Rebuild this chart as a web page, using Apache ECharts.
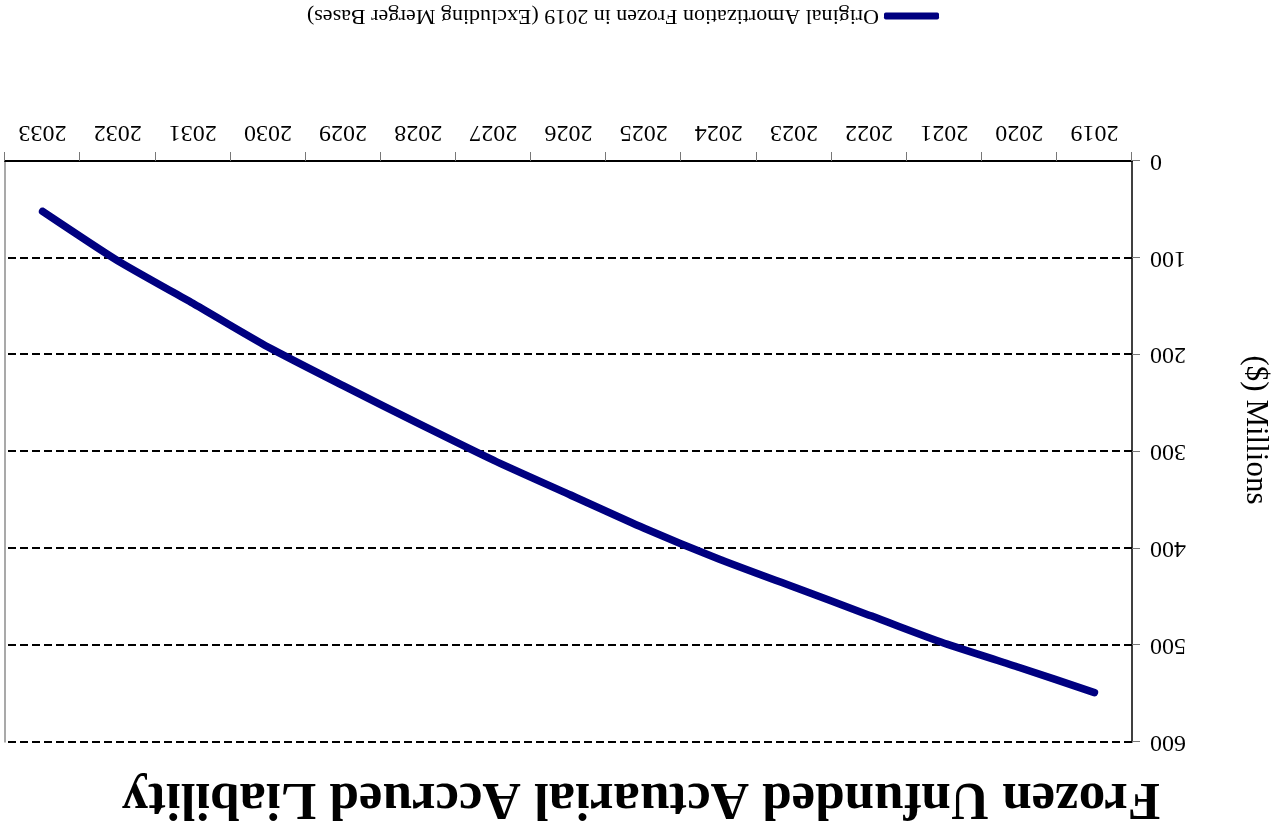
<!DOCTYPE html>
<html>
<head>
<meta charset="utf-8">
<script src="https://cdn.jsdelivr.net/npm/echarts@6/dist/echarts.min.js"></script>
<style>
  html, body { margin: 0; padding: 0; background: #fff; overflow: hidden; }
  /* the whole figure is presented turned half a revolution */
  #chart { width: 1282px; height: 832px; transform: rotate(180deg); transform-origin: 50% 50%; }
</style>
</head>
<body>
<div id="chart"></div>
<script>
// Plan years on the category axis
const years = ['2019', '2020', '2021', '2022', '2023', '2024', '2025', '2026',
               '2027', '2028', '2029', '2030', '2031', '2032', '2033'];
// Frozen unfunded actuarial accrued liability, $ millions
const frozenUAAL = [549, 523, 498, 469, 440, 411, 379, 344, 309, 271, 232, 192, 147, 103, 52];
// Value axis range and step
const valueMin = 0;
const valueMax = 600;
const valueStep = 100;

const titleText = 'Frozen Unfunded Actuarial Accrued Liability';
const seriesName = 'Original Amortization Frozen in 2019 (Excluding Merger Bases)';
const valueAxisName = '($) Millions';

const serif = '"Liberation Serif", "DejaVu Serif", serif';

const chart = echarts.init(document.getElementById('chart'), null, { renderer: 'canvas' });

chart.setOption({
  backgroundColor: '#ffffff',
  animation: false,
  title: {
    text: titleText,
    left: 'center',
    top: 3,
    textStyle: { fontFamily: serif, fontWeight: 'bold', fontSize: 53, color: '#000' }
  },
  legend: {
    left: 338,
    top: 800,
    itemWidth: 55,
    itemHeight: 7,
    data: [{ name: seriesName, icon: 'roundRect' }],
    textStyle: { fontFamily: serif, fontSize: 22, color: '#000' }
  },
  grid: { left: 150, right: 5, top: 90, bottom: 161, containLabel: false },
  xAxis: {
    type: 'category',
    data: years,
    boundaryGap: true,
    axisLine: { show: true, lineStyle: { color: '#000', width: 2 } },
    axisTick: { show: true, alignWithLabel: false, length: 9, lineStyle: { color: '#777', width: 1 } },
    axisLabel: { fontFamily: serif, fontSize: 24, color: '#000', margin: 17 },
    splitLine: { show: false }
  },
  yAxis: [
    {
      type: 'value',
      min: valueMin,
      max: valueMax,
      interval: valueStep,
      axisLine: { show: true, lineStyle: { color: '#000', width: 1.5 } },
      axisTick: { show: true, length: 8, lineStyle: { color: '#777', width: 1 } },
      axisLabel: { fontFamily: serif, fontSize: 24, color: '#000', margin: 18 },
      splitLine: { show: true, lineStyle: { color: '#000', width: 2, type: [8, 4] } }
    },
    {
      type: 'value',
      position: 'right',
      min: valueMin,
      max: valueMax,
      interval: valueStep,
      axisLine: { show: true, lineStyle: { color: '#8c8c8c', width: 1.5 } },
      axisTick: { show: false },
      axisLabel: { show: false },
      splitLine: { show: false }
    }
  ],
  graphic: [
    {
      type: 'text',
      x: 27,
      y: 402,
      rotation: Math.PI / 2,
      style: {
        text: valueAxisName,
        font: '31px ' + serif,
        fill: '#000',
        align: 'center',
        verticalAlign: 'middle'
      }
    }
  ],
  series: [
    {
      name: seriesName,
      type: 'line',
      data: frozenUAAL,
      yAxisIndex: 0,
      showSymbol: false,
      symbol: 'none',
      smooth: 0.2,
      color: '#000080',
      lineStyle: { color: '#000080', width: 7.5, cap: 'round', join: 'round' },
      itemStyle: { color: '#000080' }
    }
  ]
});
</script>
</body>
</html>
